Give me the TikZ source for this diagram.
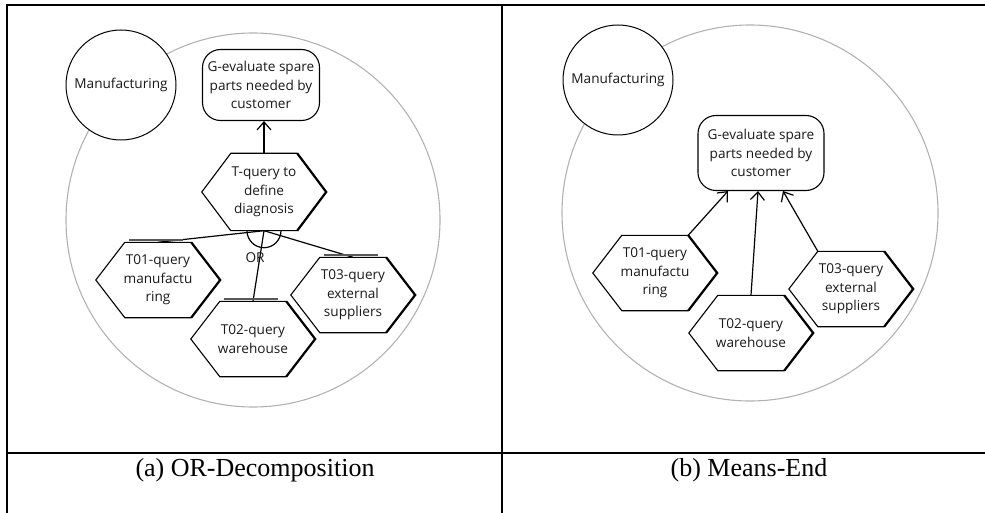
\documentclass[tikz,border=0pt]{standalone}
\usepackage{fontspec}
\setmainfont{Liberation Serif}
\newfontfamily\diafont{Open Sans}
\usetikzlibrary{arrows.meta}
\newcommand\drawhexagon[1]{%
  \draw[hexline] ([xshift=29pt]#1.north west) -- ([xshift=-29pt]#1.north east) -- (#1.east) -- ([xshift=-29pt]#1.south east) -- ([xshift=29pt]#1.south west) -- (#1.west) -- cycle;
  \draw[hexshade] ([xshift=-29pt]#1.north east) -- (#1.east) -- ([xshift=-29pt]#1.south east);}
\begin{document}
\begin{tikzpicture}[x=1pt,y=-1pt,
  lbl/.style={font=\diafont\fontsize{13.6}{18.5}\selectfont, align=center, text=black!90},
  hexbox/.style={lbl, minimum width=124pt, minimum height=75pt, inner sep=0pt},
  goalbox/.style={lbl, draw, rounded corners=18pt, inner sep=0pt, line width=1.1pt},
  actor/.style={lbl, draw, circle, fill=white, minimum size=110pt, inner sep=0pt, line width=1pt},
  boundary/.style={draw=black!30, line width=1.1pt},
  hexline/.style={line width=1.1pt},
  hexshade/.style={line width=2.2pt},
  link/.style={line width=1.2pt},
  means/.style={line width=1.2pt, -{Straight Barb[length=8pt,width=14pt]}},
  orbar/.style={line width=2pt, black!65},
  tableline/.style={line width=1.8pt},
  caption/.style={font=\fontsize{26}{30}\selectfont}]

\useasboundingbox (0,0) rectangle (985,513);

% table
\draw[tableline] (7,513) -- (7,5) -- (985,5);
\draw[tableline] (502,5) -- (502,513);
\draw[tableline] (7,453) -- (985,453);

% ---------- (a) OR-Decomposition ----------
\draw[boundary] (253,220) circle[radius=187pt];
\node[actor] (mA) at (121,85) {Manufacturing};
\node[goalbox, minimum width=117pt, minimum height=71pt] (gA) at (261,85) {G-evaluate spare\\parts needed by\\customer};
\node[hexbox, minimum height=77pt] (tA) at (264,192) {T-query to\\define\\diagnosis};
\node[hexbox] (a1) at (158,280) {T01-query\\manufactu\\ring};
\node[hexbox] (a2) at (253,339) {T02-query\\warehouse};
\node[hexbox] (a3) at (353,295) {T03-query\\external\\suppliers};
\drawhexagon{tA}
\drawhexagon{a1}
\drawhexagon{a2}
\drawhexagon{a3}
\draw[means] (tA.north) -- (tA.north |- gA.south);
\draw[link] (tA.south) -- (a1.north);
\draw[link] (tA.south) -- (a2.north);
\draw[link] (tA.south) -- (a3.north);
\draw[link] ([xshift=-17pt]tA.south) arc[start angle=180,end angle=360,radius=17pt];
\node[lbl] (orA) at (255,258) {OR};
\foreach \n in {a1,a2,a3}
  \draw[orbar] ([xshift=33pt,yshift=2pt]\n.north west) -- ([xshift=-37pt,yshift=2pt]\n.north east);
\node[caption] (capA) at (255,470) {(a) OR-Decomposition};

% ---------- (b) Means-End ----------
\draw[boundary] (750,213) circle[radius=188pt];
\node[actor] (mB) at (618,80) {Manufacturing};
\node[goalbox, minimum width=126pt, minimum height=75pt] (gB) at (761,153) {G-evaluate spare\\parts needed by\\customer};
\node[hexbox] (b1) at (655,273) {T01-query\\manufactu\\ring};
\node[hexbox] (b2) at (751,333) {T02-query\\warehouse};
\node[hexbox] (b3) at (851,289) {T03-query\\external\\suppliers};
\drawhexagon{b1}
\drawhexagon{b2}
\drawhexagon{b3}
\draw[means] ([xshift=-29pt]b1.north east) -- ([xshift=-33pt]gB.south);
\draw[means] (b2.north) -- ([xshift=-3pt]gB.south);
\draw[means] ([xshift=29pt]b3.north west) -- ([xshift=22pt]gB.south);
\node[caption] (capB) at (749,470) {(b) Means-End};
\end{tikzpicture}
\end{document}
